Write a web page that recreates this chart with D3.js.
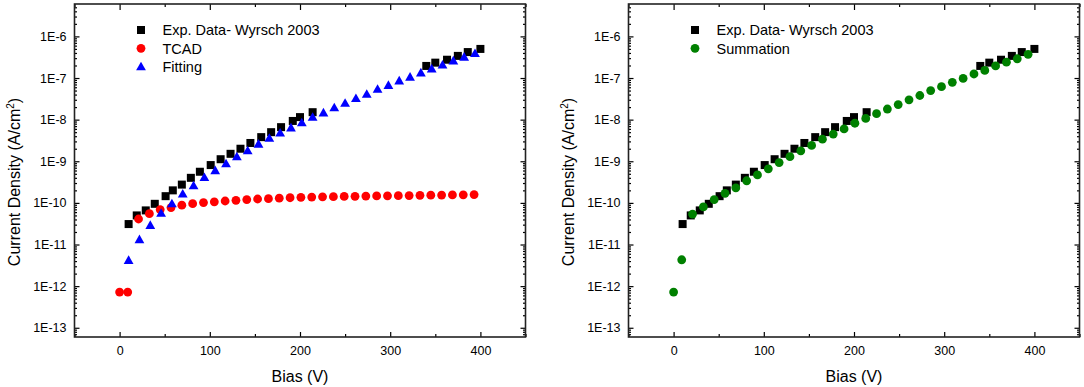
<!DOCTYPE html>
<html>
<head>
<meta charset="utf-8">
<script src="https://cdn.jsdelivr.net/npm/d3@7"></script>
<style>
  body { margin: 0; background: #fff; }
  svg { display: block; font-family: Arial, "Liberation Sans", sans-serif; }
  .tick text { font-size: 12.5px; fill: #000; }
  .tick line { stroke: #000; stroke-width: 1.2; }
  .axis-title { font-size: 16px; fill: #000; }
  .legend text { font-size: 14.5px; fill: #000; }
</style>
</head>
<body>
<div class="chart"></div>
<script>
// Data (Bias in V, current density in A/cm2)
const expX = [10, 19, 29, 39, 51, 59, 69, 79, 89, 101, 112, 123, 134, 145, 157, 168, 179, 192, 200, 214,
              340, 350, 363, 375, 386, 400];
const expY = [3.1e-11, 5.0e-11, 6.6e-11, 9.5e-11, 1.45e-10, 2.0e-10, 2.75e-10, 4.0e-10, 5.6e-10, 8.1e-10,
              1.12e-9, 1.51e-9, 2.0e-9, 2.75e-9, 3.8e-9, 5.0e-9, 6.6e-9, 9.3e-9, 1.15e-8, 1.51e-8,
              1.95e-7, 2.34e-7, 2.75e-7, 3.4e-7, 4.2e-7, 5.0e-7];

const tcadX = [0, 9, 21, 33, 45, 57, 69, 81, 93, 105, 117, 129, 141, 153, 165, 177, 189, 201, 213, 225,
               237, 249, 261, 273, 285, 297, 309, 321, 333, 345, 357, 369, 381, 393];
const tcadY = [7.2e-13, 7.2e-13, 4.1e-11, 5.5e-11, 6.9e-11, 7.7e-11, 8.8e-11, 9.6e-11, 1.02e-10, 1.06e-10,
               1.11e-10, 1.15e-10, 1.2e-10, 1.24e-10, 1.26e-10, 1.3e-10, 1.33e-10, 1.36e-10, 1.38e-10, 1.4e-10,
               1.41e-10, 1.43e-10, 1.44e-10, 1.46e-10, 1.47e-10, 1.48e-10, 1.49e-10, 1.5e-10, 1.52e-10, 1.53e-10,
               1.54e-10, 1.55e-10, 1.56e-10, 1.58e-10];

const fitX = [10, 22, 34, 46, 58, 70, 82, 94, 106, 118, 130, 142, 154, 166, 178, 190, 202, 214, 226, 238,
              250, 262, 274, 286, 298, 310, 322, 334, 346, 358, 370, 382, 394];
const fitY = [4.2e-12, 1.32e-11, 2.9e-11, 5.7e-11, 9.6e-11, 1.65e-10, 2.6e-10, 4.1e-10, 6.0e-10, 8.8e-10,
              1.29e-9, 1.8e-9, 2.6e-9, 3.6e-9, 4.8e-9, 6.4e-9, 8.5e-9, 1.15e-8, 1.47e-8, 1.94e-8,
              2.5e-8, 3.25e-8, 4.1e-8, 5.4e-8, 6.7e-8, 8.6e-8, 1.06e-7, 1.34e-7, 1.67e-7, 2.08e-7,
              2.6e-7, 3.2e-7, 3.9e-7];

const sumX = [0, 9, 21, 33, 45, 57, 69, 81, 93, 105, 117, 129, 141, 153, 165, 177, 189, 201, 213, 225,
              237, 249, 261, 273, 285, 297, 309, 321, 333, 345, 357, 369, 381, 393];
const sumY = [7.2e-13, 4.3e-12, 5.4e-11, 8.0e-11, 1.2e-10, 1.7e-10, 2.3e-10, 3.4e-10, 4.7e-10, 6.6e-10,
              9.3e-10, 1.29e-9, 1.78e-9, 2.4e-9, 3.4e-9, 4.5e-9, 6.0e-9, 8.2e-9, 1.07e-8, 1.39e-8,
              1.8e-8, 2.3e-8, 3.0e-8, 3.8e-8, 5.0e-8, 6.2e-8, 7.9e-8, 9.8e-8, 1.25e-7, 1.52e-7,
              1.95e-7, 2.4e-7, 2.9e-7, 3.7e-7];

// axis ticks
const xMajor = [0, 100, 200, 300, 400];
const xMinor = [-50, 50, 150, 250, 350, 450];
const yMajor = [1e-13, 1e-12, 1e-11, 1e-10, 1e-9, 1e-8, 1e-7, 1e-6];
const yLabels = ['1E-13', '1E-12', '1E-11', '1E-10', '1E-9', '1E-8', '1E-7', '1E-6'];

const zip = (xs, ys) => xs.map((x, i) => ({ x: x, y: ys[i] }));

const svg_width = 1084, svg_height = 387;
const svg = d3.select('.chart').append('svg')
    .attr('width', svg_width).attr('height', svg_height);

// minor log ticks 2..9 inside every decade
const yMinor = [];
for (let e = -14; e <= -6; e++) {
    for (let m = 2; m <= 9; m++) {
        const v = m * Math.pow(10, e);
        if (v > 6e-14 && v < 6e-6) yMinor.push(v);
    }
}

// marker shapes
function drawMarker(sel, shape, color) {
    if (shape === 'square') {
        sel.append('rect').attr('x', -4).attr('y', -4)
            .attr('width', 8).attr('height', 8).attr('fill', color);
    } else if (shape === 'circle') {
        sel.append('circle').attr('r', 4.4).attr('fill', color);
    } else {
        sel.append('path').attr('d', 'M0,-4.9L4.9,3.7L-4.9,3.7Z').attr('fill', color);
    }
}

function drawPanel(left, series) {
    const top = 4, bottom = 337, width = 451;
    const chart_height = bottom - top;
    const g = svg.append('g').attr('transform', `translate(${left},${top})`);

    const xScale = d3.scaleLinear().domain([-50, 450]).range([0, width]);
    const yScale = d3.scaleLog().domain([6e-14, 6e-6]).range([chart_height, 0]);

    // ticks, all pointing inward
    const yFmt = d => yLabels[yMajor.indexOf(d)];
    g.append('g').call(d3.axisLeft(yScale).tickValues(yMajor).tickFormat(yFmt)
        .tickSizeInner(-5).tickSizeOuter(0).tickPadding(8));
    g.append('g').call(d3.axisLeft(yScale).tickValues(yMinor).tickFormat('')
        .tickSizeInner(-2.5).tickSizeOuter(0));
    g.append('g').attr('transform', `translate(${width},0)`)
        .call(d3.axisRight(yScale).tickValues(yMajor).tickFormat('').tickSizeInner(-5).tickSizeOuter(0));
    g.append('g').attr('transform', `translate(${width},0)`)
        .call(d3.axisRight(yScale).tickValues(yMinor).tickFormat('').tickSizeInner(-2.5).tickSizeOuter(0));

    g.append('g').attr('transform', `translate(0,${chart_height})`)
        .call(d3.axisBottom(xScale).tickValues(xMajor).tickSizeInner(-5).tickSizeOuter(0).tickPadding(9));
    g.append('g').attr('transform', `translate(0,${chart_height})`)
        .call(d3.axisBottom(xScale).tickValues(xMinor).tickFormat('').tickSizeInner(-3).tickSizeOuter(0));
    g.append('g').call(d3.axisTop(xScale).tickValues(xMajor).tickFormat('').tickSizeInner(-6).tickSizeOuter(0));
    g.append('g').call(d3.axisTop(xScale).tickValues(xMinor).tickFormat('').tickSizeInner(-3).tickSizeOuter(0));

    g.selectAll('.domain').remove();
    g.selectAll('.tick text').attr('fill', '#000').style('font-size', '12.5px');

    // frame
    g.append('rect').attr('width', width).attr('height', chart_height)
        .attr('fill', 'none').attr('stroke', '#222').attr('stroke-width', 1.6);

    // data
    series.forEach(s => {
        g.append('g').selectAll('g').data(zip(s.xs, s.ys)).join('g')
            .attr('transform', d => `translate(${xScale(d.x)},${yScale(d.y)})`)
            .each(function () { drawMarker(d3.select(this), s.shape, s.color); });
    });

    // legend
    const legend = g.append('g').attr('class', 'legend');
    series.forEach((s, i) => {
        const row = legend.append('g').attr('transform', `translate(${66.5},${26 + i * 18.3})`);
        drawMarker(row, s.shape, s.color);
        row.append('text').attr('x', 21.5).attr('y', 5.2).text(s.name);
    });

    // axis titles
    svg.append('text').attr('class', 'axis-title')
        .attr('x', left + width / 2).attr('y', 382)
        .attr('text-anchor', 'middle').text('Bias (V)');
    const yt = svg.append('text').attr('class', 'axis-title')
        .attr('transform', `translate(${left - 55},182) rotate(-90)`)
        .attr('text-anchor', 'middle');
    yt.append('tspan').text('Current Density (A/cm');
    yt.append('tspan').attr('dy', -6).style('font-size', '10px').text('2');
    yt.append('tspan').attr('dy', 6).text(')');
}

drawPanel(74.5, [
    { name: 'Exp. Data- Wyrsch 2003', xs: expX, ys: expY, shape: 'square', color: '#000000' },
    { name: 'TCAD', xs: tcadX, ys: tcadY, shape: 'circle', color: '#ff0000' },
    { name: 'Fitting', xs: fitX, ys: fitY, shape: 'triangle', color: '#0000ff' }
]);

drawPanel(628.5, [
    { name: 'Exp. Data- Wyrsch 2003', xs: expX, ys: expY, shape: 'square', color: '#000000' },
    { name: 'Summation', xs: sumX, ys: sumY, shape: 'circle', color: '#008000' }
]);
</script>
</body>
</html>
